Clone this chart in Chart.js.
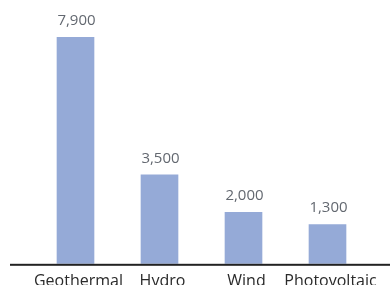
<!DOCTYPE html>
<html>
<head>
<meta charset="utf-8">
<script src="https://cdn.jsdelivr.net/npm/chart.js@4.4.1/dist/chart.umd.min.js"></script>
<style>
  html, body { margin: 0; padding: 0; background: #fff; overflow: hidden; }
  #wrap { width: 390px; height: 300px; }
</style>
</head>
<body>
<div id="wrap"><canvas id="chart" width="390" height="300"></canvas></div>
<script>
const categories = ['Geothermal', 'Hydro', 'Wind', 'Photovoltaic'];
// printed labels
const labelValues = [7900, 3500, 2000, 1300];
// bar heights as drawn in the picture (they don't follow the labels exactly)
const barHeights = [7900, 3100, 1790, 1370];

const valueLabels = {
  id: 'valueLabels',
  afterDatasetsDraw(chart) {
    const ctx = chart.ctx;
    const meta = chart.getDatasetMeta(0);
    ctx.save();
    ctx.font = '15px "Open Sans"';
    ctx.fillStyle = '#636870';
    ctx.textAlign = 'center';
    ctx.textBaseline = 'alphabetic';
    meta.data.forEach((bar, i) => {
      ctx.fillText(labelValues[i].toLocaleString('en-US'), bar.x + 1, bar.y - 12);
    });
    ctx.restore();
  }
};

const baseLine = {
  id: 'baseLine',
  afterDraw(chart) {
    const ctx = chart.ctx;
    ctx.save();
    ctx.fillStyle = '#222';
    ctx.fillRect(10, chart.chartArea.bottom, 380, 2);
    ctx.restore();
  }
};

new Chart(document.getElementById('chart'), {
  type: 'bar',
  data: {
    labels: categories,
    datasets: [{
      data: barHeights,
      backgroundColor: '#95aad7',
      borderWidth: 0,
      barThickness: 37,
    }],
  },
  options: {
    responsive: false,
    animation: false,
    layout: { padding: { top: 37, left: 33.5, right: 20.5, bottom: 1 } },
    plugins: { legend: { display: false }, tooltip: { enabled: false } },
    scales: {
      x: {
        grid: { display: false, drawTicks: false },
        border: { display: false },
        ticks: {
          padding: 8, color: '#2a2a2a', font: { family: 'Open Sans', size: 16 },
          maxRotation: 0, minRotation: 0, autoSkip: false, labelOffset: 3,
        },
      },
      y: {
        display: false,
        min: 0,
        max: 7900,
      },
    },
  },
  plugins: [valueLabels, baseLine],
});
</script>
</body>
</html>
